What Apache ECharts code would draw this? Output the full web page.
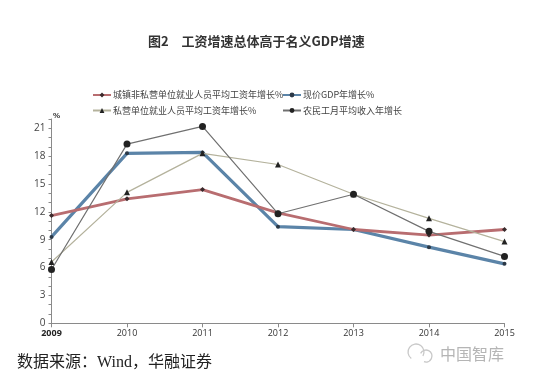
<!DOCTYPE html>
<html><head><meta charset="utf-8">
<script src="https://cdn.jsdelivr.net/npm/echarts@6/dist/echarts.min.js"></script>
<style>html,body{margin:0;padding:0;background:#fff}#c{width:556px;height:383px}</style>
</head><body><div id="c"></div>
<script>
const years = ['2009','2010','2011','2012','2013','2014','2015'];
const urbanWage = [11.6,13.4,14.4,11.9,10.1,9.5,10.1];
const gdp = [9.3,18.3,18.4,10.4,10.1,8.2,6.4];
const privateWage = [6.6,14.1,18.3,17.1,13.9,11.3,8.8];
const migrantIncome = [5.8,19.3,21.2,11.8,13.9,9.9,7.2];
const yTickLabels = [0,3,6,9,12,15,18,21];
const names = ['城镇非私营单位就业人员平均工资年增长%','现价GDP年增长%','私营单位就业人员平均工资年增长%','农民工月平均收入年增长'];

const font = "'Noto Sans CJK SC','Noto Sans',sans-serif";
const chart = echarts.init(document.getElementById('c'), null, {renderer:'canvas'});
function lg(name, left, top){
  return {data:[name], left:left, top:top, padding:0, itemWidth:18, itemHeight:6, itemGap:0,
    textStyle:{fontSize:9, color:'#444', fontFamily:font, padding:[0,0,0,-3]}};
}
chart.setOption({
  backgroundColor:'#fff',
  animation:false,
  textStyle:{fontFamily:font},
  legend:[lg(names[0],92,90.5), lg(names[1],282,90.5), lg(names[2],92,106), lg(names[3],282,106)],
  grid:{left:51.5, right:51.5, top:119, bottom:59.7},
  xAxis:{type:'category', data:years, boundaryGap:false,
    axisLine:{lineStyle:{color:'#8a8a8a', width:1}},
    axisTick:{length:4, lineStyle:{color:'#8a8a8a'}},
    axisLabel:{fontSize:9, color:'#333', margin:6, fontFamily:"'Open Sans',sans-serif",
      formatter:(v,i)=> i===0 ? '{b|'+v+'}' : v,
      rich:{b:{fontWeight:'bold', fontSize:9, color:'#222', fontFamily:"'Open Sans',sans-serif"}}},
    splitLine:{show:false}},
  yAxis:{type:'value', min:0, max:22, interval:1,
    axisLine:{show:true, lineStyle:{color:'#8a8a8a', width:1}},
    axisTick:{show:true, length:3, lineStyle:{color:'#8a8a8a'}},
    axisLabel:{fontSize:10, color:'#444', margin:6, fontFamily:"'Open Sans',sans-serif",
      formatter:v=> yTickLabels.includes(v) ? String(v) : ''},
    splitLine:{show:false}},
  series:[
    {name:names[1], type:'line', data:gdp, z:2, symbol:'circle', symbolSize:4,
      lineStyle:{color:'#5b84a8', width:3.2}, itemStyle:{color:'#2b3846'}},
    {name:names[0], type:'line', data:urbanWage, z:3, symbol:'diamond', symbolSize:5,
      lineStyle:{color:'#b86d70', width:2.8}, itemStyle:{color:'#3a2a2c'}},
    {name:names[2], type:'line', data:privateWage, z:4, symbol:'triangle', symbolSize:6,
      lineStyle:{color:'#b4b29c', width:1.2}, itemStyle:{color:'#222'}},
    {name:names[3], type:'line', data:migrantIncome, z:5, symbol:'circle', symbolSize:7,
      lineStyle:{color:'#707070', width:1.2}, itemStyle:{color:'#222'}}
  ],
  graphic:[
    {type:'text', left:148, top:35, style:{text:'图2', font:"bold 13px "+font, fill:'#333'}},
    {type:'text', left:181.5, top:35, style:{text:'工资增速总体高于名义GDP增速', font:"bold 13px "+font, fill:'#333'}},
    {type:'text', left:53, top:112, style:{text:'%', font:"bold 8px sans-serif", fill:'#333'}},
    {type:'text', left:17, top:355, style:{text:'数据来源：Wind，华融证券', font:"16px 'Liberation Serif','Noto Sans CJK SC',serif", fill:'#222'}},
    {type:'text', left:440, top:346, style:{text:'中国智库', font:"16px "+font, fill:'#b5b5b5'}},
    {type:'arc', shape:{cx:416, cy:352, r:8, startAngle:2.2, endAngle:6.8}, style:{stroke:'#c8c8c8', lineWidth:1.3, fill:null}},
    {type:'arc', shape:{cx:426, cy:356, r:6, startAngle:3.6, endAngle:8.2}, style:{stroke:'#c8c8c8', lineWidth:1.3, fill:null}}
  ]
});
</script></body></html>
